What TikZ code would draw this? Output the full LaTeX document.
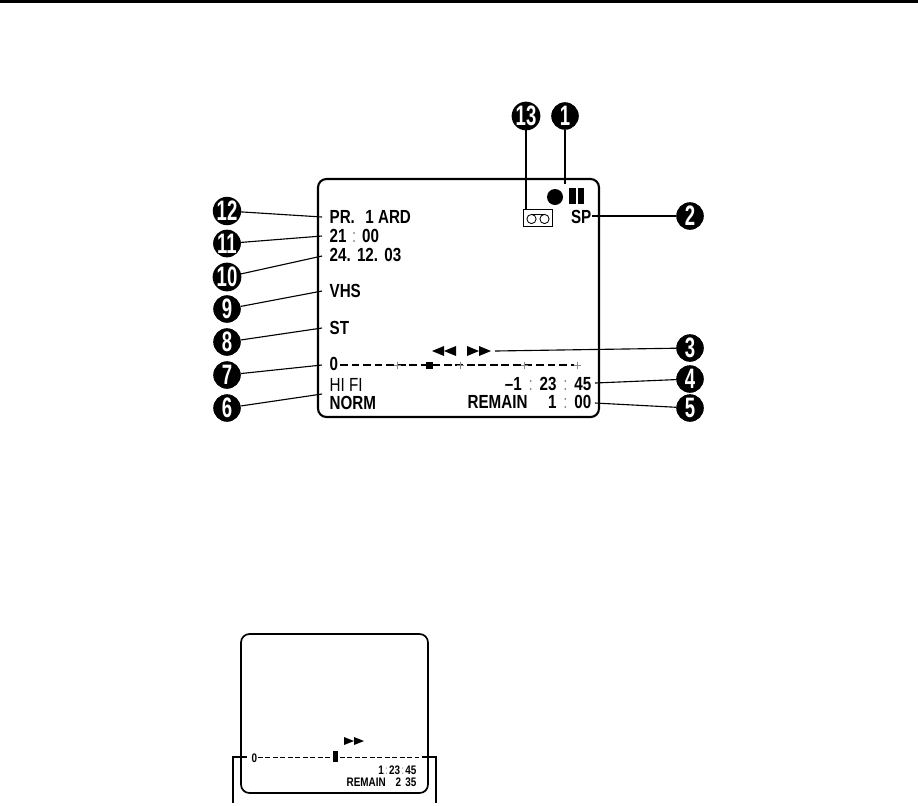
\documentclass[tikz,border=0pt]{standalone}
\usepackage{fontspec}
\setmainfont[FakeStretch=0.8]{Liberation Sans}
\newfontfamily\badgefont[FakeStretch=0.66]{Liberation Sans Bold}
\usetikzlibrary{positioning}
\definecolor{cfaint}{HTML}{8A8A8A}
\newcommand{\fc}{{\mdseries\color{cfaint}:}}
\tikzset{
  every picture/.style={line width=0.9pt},
  badge/.style={circle, fill=black, text=white, inner sep=0pt, minimum size=0.68cm, font=\badgefont\fontsize{20}{20}\selectfont},
  leader/.style={draw=black, line width=0.8pt},
  screen/.style={draw=black, rounded corners=6pt, line width=1.5pt},
  osd/.style={anchor=base west, inner sep=0pt, font=\bfseries\fontsize{13.5}{15}\selectfont},
  osdr/.style={osd, anchor=base east},
  osdthin/.style={osd, font=\fontsize{13.5}{15}\selectfont},
  small/.style={anchor=base west, inner sep=0pt, font=\bfseries\fontsize{8.8}{10}\selectfont},
  smallr/.style={small, anchor=base east},
  tick/.style={draw=cfaint, line width=0.4pt},
}
\begin{document}
\begin{tikzpicture}[x=0.025cm, y=-0.025cm]
  \useasboundingbox (0,0) rectangle (918,805);
  \fill (0,0) rectangle (918,3);
  % upper screen
  \draw[screen] (318,179) rectangle (599,417);
  \foreach \num/\bx/\by/\ex/\ey in {12/227/211/322/217, 11/227/243.5/322/236, 10/227/277/322/256, 9/227/309/322/291, 8/227/342/322/328, 7/227/375/322/365, 6/227/408/322/394,
    2/690/216/592/216, 3/690/348/495/351, 4/690/379/595/383, 5/690/408/595/403, 13/526/116/526/209, 1/565/116/565/184} {
    \node[badge] (b\num) at (\bx,\by) {};
    \coordinate (e\num) at (\ex,\ey);
    \draw[leader] (b\num) -- (e\num);
    \node[badge] at (b\num) {\num};
  }
  \node[osd] (prog) at (329,223) {PR.\hspace{0.55em}1 ARD};
  \node[osd] (clock) at (329,242) {21\hspace{0.3em}\fc\hspace{0.3em}00};
  \node[osd] (date) at (329,261) {24.\hspace{0.33em}12.\hspace{0.33em}03};
  \node[osd] (vhs) at (329,297) {VHS};
  \node[osd] (st) at (329,334) {ST};
  \node[osd] (zero) at (329,370) {0};
  \node[osdthin] (hifi) at (329,391) {HI FI};
  \node[osd] (norm) at (329,409) {NORM};
  \node[osdr] (sp) at (592,223) {SP};
  \node[osdr] (count) at (592,390) {--1\hspace{0.36em}\fc\hspace{0.36em}23\hspace{0.36em}\fc\hspace{0.36em}45};
  \node[osd] (remain) at (467,408) {REMAIN};
  \node[osdr] (left) at (592,408) {1\hspace{0.36em}\fc\hspace{0.36em}00};
  % record and pause
  \fill (555,197) circle (8);
  \fill (569,188) rectangle (576,204);
  \fill (578,188) rectangle (584,204);
  % cassette
  \draw[line width=0.6pt] (523,209) rectangle (552,226);
  \draw[line width=0.6pt] (531.5,219) circle (4.6);
  \draw[line width=0.6pt] (544.5,219) circle (4.6);
  \draw[line width=0.6pt] (531.5,214.4) -- (544.5,214.4);
  % tape bar
  \draw[line width=1.2pt, dash pattern=on 5.6pt off 2.6pt] (340,365) -- (574,365);
  \foreach \tx in {397,460,524,577} {
    \draw[tick] (\tx-3.5,365) -- (\tx+3.5,365) (\tx,361.5) -- (\tx,368.5);
  }
  \fill (425.5,361.5) rectangle (432.5,368.5);
  \foreach \ax in {432,444,479,467} {
    \ifnum\ax<450
      \fill (\ax,351) -- (\ax+12,346) -- (\ax+12,356) -- cycle;
    \else
      \fill (\ax,346) -- (\ax+12,351) -- (\ax,356) -- cycle;
    \fi
  }
  % lower screen
  \draw[screen, line width=1.2pt] (241,634) rectangle (428,793);
  \coordinate (lowa) at (247,757);
  \coordinate (lowb) at (422,757);
  \coordinate (lowc) at (233,803);
  \coordinate (lowd) at (436,803);
  \draw[leader] (lowa) -| (lowc);
  \draw[leader] (lowb) -| (lowd);
  \node[small] (lowzero) at (251,762) {0};
  \draw[line width=0.5pt, dash pattern=on 3.5pt off 1.8pt] (258,757) -- (420,757);
  \fill (333,751) rectangle (338,762);
  \foreach \ax in {344,354} {
    \fill (\ax,737) -- (\ax+10,741) -- (\ax,745) -- cycle;
  }
  \node[smallr] (lowcount) at (417,774) {1\hspace{0.1em}\fc\hspace{0.1em}23\hspace{0.1em}\fc\hspace{0.1em}45};
  \node[small] (lowremain) at (346,786) {REMAIN};
  \node[smallr] (lowleft) at (417,786) {2\hspace{0.35em}35};
\end{tikzpicture}
\end{document}
